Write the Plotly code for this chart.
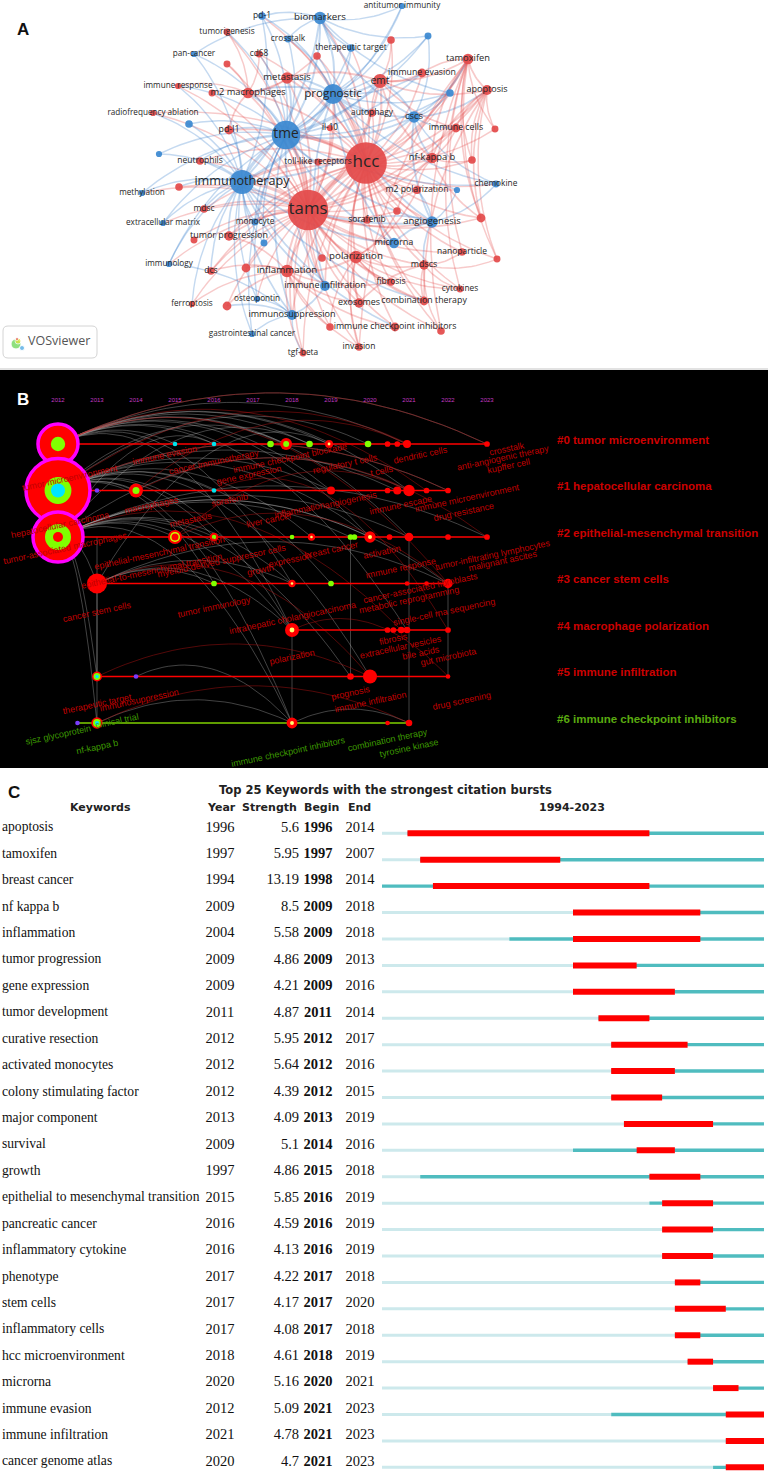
import numpy as np
import plotly.graph_objects as go

W, H = 768, 1478

# ---------------- A: keyword co-occurrence map (VOSviewer layout coords) ----------------
A_NAME = ["pd-1", "biomarkers", "crosstalk", "therapeutic target", "pan-cancer",
          "antitumor immunity", "_b1", "_b2", "cscs", "prognostic", "_b3", "_b4",
          "tme", "immunotherapy", "methylation", "extracellular matrix", "monocyte",
          "_b5", "immunology", "immune infiltration", "osteopontin", "immunosuppression",
          "gastrointestinal cancer", "chemokine", "_b6", "angiogenesis", "microrna",
          "tumorigenesis", "cd68", "_r1", "_r2", "_r3", "metastasis", "emt",
          "immune response", "_r4", "m2 macrophages", "radiofrequency ablation",
          "autophagy", "pd-l1", "il-10", "neutrophils", "toll-like receptors", "hcc",
          "tamoxifen", "immune evasion", "apoptosis", "immune cells", "_r5", "nf-kappa b",
          "_r6", "_r7", "mdsc", "tams", "sorafenib", "tumor progression", "_r8", "dcs",
          "_r9", "inflammation", "_r10", "polarization", "ferroptosis", "_r11", "exosomes",
          "immune checkpoint inhibitors", "_r12", "tgf-beta", "invasion", "fibrosis",
          "m2 polarization", "_r13", "_r14", "nanoparticle", "_r15", "mdscs", "cytokines",
          "combination therapy", "_r16"]
A_X = [262, 320, 288, 351, 194, 402, 428, 450, 414, 333, 189, 159,
       286, 242, 142, 163, 255, 264, 169, 325, 257, 292, 252, 496, 457, 432, 394,
       227, 259, 317, 227, 391, 287, 380, 178, 212, 248, 153, 372, 229, 330, 200, 318, 366,
       468, 422, 487, 456, 495, 432, 472,
       179, 204, 308, 367, 229, 194, 211, 246, 287, 322, 356,
       192, 227, 359, 395, 330, 303, 359, 391,
       417, 397, 481, 462, 497, 424, 460, 424, 441]
A_Y = [16, 18, 39, 48, 54, 6, 36, 93, 117, 94, 124, 154,
       135, 182, 193, 223, 222, 243, 264, 286, 299, 315, 334, 184, 190, 222, 243,
       32, 54, 56, 64, 40, 78, 81, 86, 93, 93, 113, 113, 130, 128, 161, 162, 163,
       59, 73, 90, 128, 129, 158, 160,
       187, 209, 210, 220, 236, 240, 271, 268, 271, 258, 257,
       304, 306, 303, 327, 327, 353, 347, 282,
       190, 211, 218, 252, 259, 265, 289, 301, 331]
A_OCC = [6, 16, 5, 6, 4, 4, 5, 6, 14, 42, 6, 4,
         85, 60, 4, 4, 5, 5, 4, 10, 4, 10, 4, 5, 4, 14, 11,
         5, 5, 6, 5, 6, 14, 20, 4, 5, 12, 4, 6, 8, 4, 6, 5, 180,
         12, 8, 10, 8, 5, 12, 6,
         6, 6, 170, 6, 9, 5, 6, 8, 16, 6, 16,
         4, 8, 9, 8, 6, 5, 6, 6,
         7, 6, 8, 6, 5, 9, 5, 8, 6]
A_CLUSTER = "b" * 27 + "r" * 52

A_LINKS = {
    "hcc": ["tams", "tme", "immunotherapy", "prognostic", "emt", "metastasis", "m2 macrophages",
            "cscs", "nf-kappa b", "tamoxifen", "apoptosis", "immune evasion", "immune cells",
            "autophagy", "toll-like receptors", "il-10", "sorafenib", "m2 polarization",
            "angiogenesis", "microrna", "polarization", "inflammation", "mdscs", "fibrosis",
            "exosomes", "combination therapy", "immune checkpoint inhibitors", "nanoparticle",
            "cytokines", "invasion", "tgf-beta", "immune infiltration", "immunosuppression",
            "pd-l1", "pd-1", "biomarkers", "therapeutic target", "crosstalk", "cd68", "_r1",
            "_r3", "_r5", "_r6", "_r13", "_r14", "_r15", "_r16", "chemokine", "_b6", "_b2",
            "radiofrequency ablation", "neutrophils", "tumor progression", "dcs", "mdsc", "monocyte"],
    "tams": ["tme", "immunotherapy", "prognostic", "m2 macrophages", "metastasis", "emt",
             "inflammation", "polarization", "tumor progression", "mdsc", "monocyte", "dcs",
             "neutrophils", "pd-l1", "cd68", "tumorigenesis", "immune response", "_r2", "_r4",
             "_r7", "_r8", "_r9", "_r10", "_r11", "_r12", "ferroptosis", "exosomes", "tgf-beta",
             "invasion", "immune checkpoint inhibitors", "sorafenib", "angiogenesis", "microrna",
             "nf-kappa b", "tamoxifen", "apoptosis", "immune cells", "cytokines", "mdscs",
             "fibrosis", "combination therapy", "toll-like receptors", "il-10", "autophagy",
             "osteopontin", "immunosuppression", "immune infiltration", "extracellular matrix",
             "immunology", "methylation", "radiofrequency ablation", "m2 polarization", "_r13",
             "nanoparticle", "_r14", "_r16"],
    "tme": ["immunotherapy", "prognostic", "biomarkers", "pd-1", "crosstalk", "therapeutic target",
            "pan-cancer", "cscs", "_b3", "_b4", "methylation", "monocyte", "_b5",
            "immune infiltration", "immunosuppression", "angiogenesis", "microrna", "chemokine",
            "_b1", "_b2", "antitumor immunity", "extracellular matrix", "immunology", "osteopontin",
            "gastrointestinal cancer", "metastasis", "pd-l1", "m2 macrophages", "immune evasion",
            "cd68", "tumorigenesis", "emt", "immune response", "neutrophils", "toll-like receptors"],
    "immunotherapy": ["prognostic", "biomarkers", "pd-1", "pan-cancer", "_b3", "_b4", "methylation",
                      "extracellular matrix", "immunology", "monocyte", "_b5", "immune infiltration",
                      "osteopontin", "immunosuppression", "gastrointestinal cancer", "cscs",
                      "angiogenesis", "microrna", "pd-l1", "mdsc", "neutrophils", "dcs",
                      "immune checkpoint inhibitors", "combination therapy", "_r7",
                      "radiofrequency ablation", "immune response", "tumor progression", "ferroptosis"],
    "prognostic": ["biomarkers", "crosstalk", "therapeutic target", "pd-1", "cscs", "_b1", "_b2",
                   "antitumor immunity", "emt", "metastasis", "immune evasion", "chemokine", "_b6",
                   "angiogenesis", "microrna", "immune infiltration", "m2 macrophages", "_r1", "_r3",
                   "autophagy"],
    "biomarkers": ["pd-1", "crosstalk", "therapeutic target", "antitumor immunity", "_b1",
                   "pan-cancer", "cscs", "_b2"],
    "cscs": ["_b2", "_b1", "angiogenesis", "chemokine", "emt", "tamoxifen", "apoptosis",
             "immune cells", "nf-kappa b"],
    "angiogenesis": ["microrna", "_b6", "chemokine", "sorafenib", "m2 polarization", "mdscs"],
    "immunosuppression": ["gastrointestinal cancer", "osteopontin", "immune infiltration",
                          "immunology", "tgf-beta", "_r11"],
    "emt": ["metastasis", "tamoxifen", "immune evasion", "apoptosis", "nf-kappa b", "autophagy",
            "_r3", "immune cells"],
    "tamoxifen": ["apoptosis", "immune evasion", "_r5", "nf-kappa b", "_r6", "_r14", "_r15",
                  "nanoparticle", "cytokines", "_r16", "invasion"],
    "apoptosis": ["_r5", "immune cells", "nf-kappa b", "_r6", "_r14", "_r15", "combination therapy"],
    "inflammation": ["polarization", "tumor progression", "_r9", "dcs", "ferroptosis", "_r11",
                     "tgf-beta", "invasion", "exosomes", "immune checkpoint inhibitors", "_r12",
                     "fibrosis"],
    "polarization": ["m2 polarization", "exosomes", "mdscs", "fibrosis", "combination therapy",
                     "cytokines", "invasion", "_r12", "_r13"],
    "nf-kappa b": ["m2 polarization", "_r6", "_r13", "_r14", "immune cells"],
    "m2 macrophages": ["metastasis", "pd-l1", "cd68", "tumorigenesis", "_r2", "_r4",
                       "immune response", "_r1"],
    "mdscs": ["combination therapy", "nanoparticle", "cytokines", "_r15", "_r16", "exosomes"],
}

# ---------------- B: CiteSpace timeline view ----------------
B_YEARS = list(range(2012, 2024))
B_CLUSTERS = ["#0 tumor microenvironment", "#1 hepatocellular carcinoma",
              "#2 epithelial-mesenchymal transition", "#3 cancer stem cells",
              "#4 macrophage polarization", "#5 immune infiltration",
              "#6 immune checkpoint inhibitors"]
B_SPAN_START = [2012, 2012, 2011.5, 2013, 2018, 2013, 2012.5]
B_SPAN_END = [2023, 2022, 2023, 2022, 2022, 2022, 2021]

B_NODE_YEAR = [2012, 2015, 2016, 2017.45, 2017.85, 2018.45, 2018.95, 2019.95, 2020.45, 2020.7, 2020.95, 2023,
               2012, 2013, 2014, 2016, 2019, 2020.45, 2020.7, 2021, 2021.45, 2022,
               2011.5, 2012, 2015, 2016, 2018, 2018.5, 2019.5, 2019.6, 2020, 2020.5, 2021, 2022, 2023,
               2013, 2016, 2018, 2019, 2020.95, 2021.45, 2022,
               2018, 2020.45, 2020.6, 2020.8, 2020.95, 2022,
               2013, 2014, 2019.5, 2020, 2022,
               2012.5, 2013, 2018, 2020.45, 2021]
B_NODE_ROW = [0, 0, 0, 0, 0, 0, 0, 0, 0, 0, 0, 0,
              1, 1, 1, 1, 1, 1, 1, 1, 1, 1,
              2, 2, 2, 2, 2, 2, 2, 2, 2, 2, 2, 2, 2,
              3, 3, 3, 3, 3, 3, 3,
              4, 4, 4, 4, 4, 4,
              5, 5, 5, 5, 5,
              6, 6, 6, 6, 6]
B_NODE_CIT = [147, 2, 2, 4, 13, 4, 6, 4, 3, 3, 6, 3,
              376, 2, 18, 2, 6, 3, 6, 12, 3, 3,
              2, 230, 18, 7, 2, 5, 3, 3, 12, 3, 7, 3, 3,
              37, 3, 5, 3, 2, 2, 8,
              18, 3, 3, 4, 4, 3,
              9, 2, 4, 18, 2,
              2, 12, 11, 2, 4]
B_NODE_KIND = ["hub0", "cyan", "cyan", "green", "ring_g", "green", "ring_y", "green", "red", "red", "red", "red",
               "hub1", "purple", "ring_g", "cyan", "red", "red", "red", "red", "red", "red",
               "purple", "hub2", "ring_gr", "ring_g", "green", "ring_y", "green", "green", "ring_y", "red", "red", "red", "red",
               "red", "green", "ring_y", "green", "red", "red", "red",
               "ring_y", "red", "red", "red", "red", "red",
               "rgc", "purple", "red", "red", "red",
               "purple", "rgc", "ring_y", "red", "red"]

# co-citation links (year, row) -> (year, row), g = grey, r = dark red
B_LINKS = [
    (2012, 0, 2015, 0, "g"), (2012, 0, 2016, 0, "g"), (2012, 0, 2017.85, 0, "g"), (2012, 0, 2018.45, 0, "g"),
    (2012, 0, 2018.95, 0, "g"), (2012, 0, 2020.95, 0, "g"), (2012, 0, 2023, 0, "g"), (2012, 0, 2019, 1, "g"),
    (2012, 0, 2021, 1, "g"), (2012, 0, 2020, 2, "g"), (2012, 0, 2021, 2, "g"), (2012, 0, 2018, 3, "g"),
    (2012, 0, 2018, 4, "g"), (2012, 0, 2020.95, 4, "g"),
    (2012, 1, 2014, 1, "g"), (2012, 1, 2016, 1, "g"), (2012, 1, 2019, 1, "g"), (2012, 1, 2020.7, 1, "g"),
    (2012, 1, 2022, 1, "g"), (2012, 1, 2017.85, 0, "g"), (2012, 1, 2019.95, 0, "g"), (2012, 1, 2016, 2, "g"),
    (2012, 1, 2018.5, 2, "g"), (2012, 1, 2020, 2, "g"), (2012, 1, 2016, 3, "g"), (2012, 1, 2019, 3, "g"),
    (2012, 1, 2018, 4, "g"), (2012, 1, 2020, 5, "g"), (2012, 1, 2018, 6, "g"),
    (2012, 2, 2015, 2, "g"), (2012, 2, 2016, 2, "g"), (2012, 2, 2019.5, 2, "g"), (2012, 2, 2020, 2, "g"),
    (2012, 2, 2021, 2, "g"), (2012, 2, 2023, 2, "g"), (2012, 2, 2016, 0, "g"), (2012, 2, 2018.45, 0, "g"),
    (2012, 2, 2021, 1, "g"), (2012, 2, 2013, 3, "g"), (2012, 2, 2018, 3, "g"), (2012, 2, 2022, 3, "g"),
    (2012, 2, 2018, 4, "g"), (2012, 2, 2019.5, 5, "g"), (2012, 2, 2013, 5, "g"), (2012, 2, 2013, 6, "g"),
    (2012, 2, 2018, 6, "g"),
    (2013, 3, 2016, 3, "g"), (2013, 3, 2018, 3, "g"), (2013, 3, 2022, 3, "g"), (2013, 3, 2018.95, 0, "g"),
    (2013, 3, 2018, 4, "g"), (2013, 5, 2013, 2, "g"), (2013, 6, 2013, 3, "g"), (2019.5, 5, 2019.5, 2, "g"),
    (2021, 6, 2021, 2, "g"), (2022, 5, 2022, 3, "g"), (2018, 6, 2018, 4, "g"), (2013, 6, 2018, 6, "g"),
    (2018, 6, 2021, 6, "g"), (2014, 5, 2018, 6, "g"),
    (2012, 0, 2022, 3, "r"), (2012, 1, 2021, 0, "r"), (2013, 3, 2020, 5, "r"), (2012, 2, 2020.8, 4, "r"),
    (2014, 1, 2023, 2, "r"), (2015, 2, 2021, 1, "r"), (2012, 0, 2023, 0, "r"), (2016, 1, 2022, 4, "r"),
    (2013, 5, 2020, 5, "r"), (2013, 6, 2021, 6, "r"), (2018, 4, 2022, 5, "r"), (2012, 1, 2022, 1, "r"),
    (2012, 0, 2021.45, 1, "r"), (2014, 1, 2020.95, 0, "r"), (2015, 2, 2022, 3, "r"),
]

# node labels of the timeline: text, year, row position, cluster
B_LABELS = [
    ("crosstalk", 2023.5, 0.11, 0), ("anti-angiogenic therapy", 2023.4, 0.30, 0),
    ("kupffer cell", 2023.55, 0.47, 0), ("tumor microenvironment", 2012.3, 0.73, 0),
    ("immune evasion", 2014.75, 0.24, 0), ("cancer immunotherapy", 2016.0, 0.39, 0),
    ("immune checkpoint blockade", 2017.95, 0.30, 0), ("regulatory t cells", 2019.35, 0.42, 0),
    ("dendritic cells", 2021.3, 0.24, 0), ("gene expression", 2016.9, 0.67, 0),
    ("t cells", 2020.3, 0.58, 0),
    ("hepatocellular carcinoma", 2012.05, 1.74, 1), ("immune microenvironment", 2022.5, 1.16, 1),
    ("drug resistance", 2022.4, 1.46, 1), ("macrophages", 2014.4, 1.31, 1),
    ("sorafenib", 2016.4, 1.20, 1), ("inflammation", 2018.2, 1.42, 1),
    ("angiogenesis", 2019.5, 1.20, 1), ("immune escape", 2020.8, 1.31, 1),
    ("metastasis", 2015.4, 1.63, 1), ("liver cancer", 2017.4, 1.63, 1),
    ("tumor-associated macrophages", 2012.2, 2.24, 2), ("epithelial-mesenchymal transition", 2014.6, 2.34, 2),
    ("myeloid-derived suppressor cells", 2016.2, 2.52, 2), ("tumor-infiltrating lymphocytes", 2023.15, 2.39, 2),
    ("malignant ascites", 2023.4, 2.52, 2), ("breast cancer", 2019.0, 2.28, 2),
    ("expression", 2017.95, 2.49, 2), ("activation", 2020.3, 2.32, 2),
    ("immune response", 2020.8, 2.67, 2), ("growth", 2017.2, 2.72, 2),
    ("epithelial-to-mesenchymal transition", 2014.4, 2.74, 3), ("cancer stem cells", 2013.0, 3.61, 3),
    ("tumor immunology", 2016.0, 3.51, 3), ("intrahepatic cholangiocarcinoma", 2018.0, 3.74, 3),
    ("single-cell rna sequencing", 2021.9, 3.61, 3), ("metabolic reprogramming", 2021.0, 3.35, 3),
    ("cancer-associated fibroblasts", 2021.3, 3.10, 3),
    ("polarization", 2018.0, 4.58, 4), ("extracellular vesicles", 2020.8, 4.37, 4),
    ("gut microbiota", 2022.0, 4.58, 4), ("fibrosis", 2020.6, 4.20, 4),
    ("bile acids", 2021.3, 4.50, 4),
    ("prognosis", 2019.5, 5.35, 5), ("immune infiltration", 2020.0, 5.55, 5),
    ("drug screening", 2022.35, 5.53, 5), ("therapeutic target", 2013.0, 5.59, 5),
    ("immunosuppression", 2014.1, 5.51, 5),
    ("sjsz glycoprotein", 2012.0, 6.26, 6), ("clinical trial", 2013.5, 5.96, 6),
    ("nf-kappa b", 2013.0, 6.52, 6), ("immune checkpoint inhibitors", 2017.9, 6.62, 6),
    ("combination therapy", 2020.45, 6.37, 6), ("tyrosine kinase", 2021.0, 6.54, 6),
]

# ---------------- C: citation bursts ----------------
C_KEYWORD = ["apoptosis", "tamoxifen", "breast cancer", "nf kappa b", "inflammation",
             "tumor progression", "gene expression", "tumor development", "curative resection",
             "activated monocytes", "colony stimulating factor", "major component", "survival",
             "growth", "epithelial to mesenchymal transition", "pancreatic cancer",
             "inflammatory cytokine", "phenotype", "stem cells", "inflammatory cells",
             "hcc microenvironment", "microrna", "immune evasion", "immune infiltration",
             "cancer genome atlas"]
C_YEAR = [1996, 1997, 1994, 2009, 2004, 2009, 2009, 2011, 2012, 2012, 2012, 2013, 2009,
          1997, 2015, 2016, 2016, 2017, 2017, 2017, 2018, 2020, 2012, 2021, 2020]
C_STRENGTH = [5.6, 5.95, 13.19, 8.5, 5.58, 4.86, 4.21, 4.87, 5.95, 5.64, 4.39, 4.09, 5.1,
              4.86, 5.85, 4.59, 4.13, 4.22, 4.17, 4.08, 4.61, 5.16, 5.09, 4.78, 4.7]
C_BEGIN = [1996, 1997, 1998, 2009, 2009, 2009, 2009, 2011, 2012, 2012, 2012, 2013, 2014,
           2015, 2016, 2016, 2016, 2017, 2017, 2017, 2018, 2020, 2021, 2021, 2021]
C_END = [2014, 2007, 2014, 2018, 2018, 2013, 2016, 2014, 2017, 2016, 2015, 2019, 2016,
         2018, 2019, 2019, 2019, 2018, 2020, 2018, 2019, 2021, 2023, 2023, 2023]
C_FIRST, C_LAST = 1994, 2023


def bez(x0, y0, x1, y1, cx, cy, n=18):
    t = np.linspace(0, 1, n)
    return ((1 - t) ** 2 * x0 + 2 * (1 - t) * t * cx + t ** 2 * x1,
            (1 - t) ** 2 * y0 + 2 * (1 - t) * t * cy + t ** 2 * y1)


fig = go.Figure()

# ===== A =====
idx = {n: i for i, n in enumerate(A_NAME)}
RED, BLUE = "#e34a4a", "#3b89d1"
seen = set()
for src, targets in A_LINKS.items():
    for tgt in targets:
        key = frozenset((src, tgt))
        if key in seen or src == tgt:
            continue
        seen.add(key)
        i, j = idx[src], idx[tgt]
        x0, y0, x1, y1 = A_X[i], A_Y[i], A_X[j], A_Y[j]
        dx, dy = x1 - x0, y1 - y0
        cx, cy = (x0 + x1) / 2 - dy * 0.16, (y0 + y1) / 2 + dx * 0.16
        bx, by = bez(x0, y0, x1, y1, cx, cy)
        m = min(A_OCC[i], A_OCC[j])
        col = "rgba(228,78,78,0.3)" if A_CLUSTER[i] == "r" else "rgba(60,130,205,0.3)"
        fig.add_trace(go.Scatter(x=bx, y=by, mode="lines", xaxis="x", yaxis="y",
                                 line=dict(color=col, width=0.8 + 0.3 * np.sqrt(m)),
                                 hoverinfo="skip"))

fig.add_trace(go.Scatter(
    x=A_X, y=A_Y, mode="markers", xaxis="x", yaxis="y",
    marker=dict(size=[3.1 * np.sqrt(o) for o in A_OCC],
                color=[RED if c == "r" else BLUE for c in A_CLUSTER],
                opacity=0.93, line=dict(width=0)),
    hoverinfo="skip"))
lab = [i for i, n in enumerate(A_NAME) if not n.startswith("_")]
fig.add_trace(go.Scatter(
    x=[A_X[i] for i in lab], y=[A_Y[i] for i in lab], mode="text", xaxis="x", yaxis="y",
    text=[A_NAME[i] for i in lab], textposition="middle center",
    textfont=dict(family="Open Sans", color="#262626",
                  size=[6.6 + 0.78 * np.sqrt(A_OCC[i]) for i in lab]),
    hoverinfo="skip"))

# VOSviewer badge
fig.add_trace(go.Scatter(x=[16, 18, 22, 17], y=[344, 341, 348, 339], mode="markers",
                         xaxis="x", yaxis="y",
                         marker=dict(size=[10, 6, 5, 3], color=["#5fd34a", "#e6e23a", "#3aa0e0", "#e03030"]),
                         hoverinfo="skip"))
fig.add_trace(go.Scatter(x=[28], y=[342], mode="text", text=["VOSviewer"], xaxis="x", yaxis="y",
                         textposition="middle right",
                         textfont=dict(family="Open Sans", size=12.5, color="#555555"),
                         hoverinfo="skip"))

# ===== B =====
for x0, r0, x1, r1, c in B_LINKS:
    cy = min(r0, r1) - 0.2 * abs(x1 - x0)
    bx, by = bez(x0, r0, x1, r1, (x0 + x1) / 2, cy, 30)
    col = "rgba(185,185,185,0.45)" if c == "g" else "rgba(175,20,20,0.6)"
    fig.add_trace(go.Scatter(x=bx, y=by, mode="lines", xaxis="x2", yaxis="y2",
                             line=dict(color=col, width=0.8), hoverinfo="skip"))

for r, (s, e) in enumerate(zip(B_SPAN_START, B_SPAN_END)):
    fig.add_trace(go.Scatter(x=[s, e], y=[r, r], mode="lines", xaxis="x2", yaxis="y2",
                             line=dict(color="#7fd000" if r == 6 else "#ff0000", width=1.3),
                             hoverinfo="skip"))

KIND = {
    "hub0": [(1.0, "#ff0000"), (0.36, "#80ff00")],
    "hub1": [(1.0, "#ff0000"), (0.42, "#80ff00"), (0.22, "#00e5ff")],
    "hub2": [(1.0, "#ff0000"), (0.52, "#80ff00"), (0.2, "#ff0000")],
    "ring_g": [(1.0, "#ff0000"), (0.5, "#80ff00")],
    "ring_gr": [(1.0, "#ff0000"), (0.72, "#c8ff00"), (0.5, "#ff0000")],
    "ring_y": [(1.0, "#ff0000"), (0.35, "#ffff70")],
    "rgc": [(1.0, "#ff0000"), (0.7, "#80ff00"), (0.35, "#00e5ff")],
    "red": [(1.0, "#ff0000")],
    "green": [(1.0, "#80ff00")],
    "cyan": [(1.0, "#00e5ee")],
    "purple": [(1.0, "#7a3cff")],
}
px_, py_, ps, pc, plc, plw = [], [], [], [], [], []
for yr, row, cit, kind in zip(B_NODE_YEAR, B_NODE_ROW, B_NODE_CIT, B_NODE_KIND):
    d = 3.3 * np.sqrt(cit)
    for k, (f, col) in enumerate(KIND[kind]):
        px_.append(yr); py_.append(row); ps.append(d * f); pc.append(col)
        hub = kind.startswith("hub") and k == 0
        plc.append("#ff00ff" if hub else col)
        plw.append(3.5 if hub else 0)
fig.add_trace(go.Scatter(x=px_, y=py_, mode="markers", xaxis="x2", yaxis="y2",
                         marker=dict(size=ps, color=pc, opacity=1, line=dict(color=plc, width=plw)),
                         hoverinfo="skip"))

fig.add_trace(go.Scatter(x=B_YEARS, y=[-0.93] * len(B_YEARS), mode="text", xaxis="x2", yaxis="y2",
                         text=[str(y) for y in B_YEARS],
                         textfont=dict(family="Liberation Sans", size=6, color="#c23ac2"),
                         hoverinfo="skip"))

ann = []
for txt, yr, rp, cl in B_LABELS:
    ann.append(dict(x=yr, y=rp, xref="x2", yref="y2", text=txt, showarrow=False,
                    textangle=-12,
                    font=dict(family="Liberation Sans", size=9,
                              color="#3d9a00" if cl == 6 else "#c00000")))
for r, name in enumerate(B_CLUSTERS):
    ann.append(dict(x=2024.74, y=r - 0.09, xref="x2", yref="y2", text="<b>%s</b>" % name,
                    showarrow=False, xanchor="left",
                    font=dict(family="Liberation Sans", size=11.5,
                              color="#5aaa10" if r == 6 else "#cc0000")))

# ===== C =====
lx, ly, tx, ty, rx, ry = [], [], [], [], [], []
for i, (y0, b, e) in enumerate(zip(C_YEAR, C_BEGIN, C_END)):
    yy = i + 0.2
    lx += [C_FIRST, y0, None]; ly += [yy, yy, None]
    tx += [y0, C_LAST + 1, None]; ty += [yy, yy, None]
    rx += [b, e + 1, None]; ry += [yy, yy, None]
fig.add_trace(go.Scatter(x=lx, y=ly, mode="lines", xaxis="x4", yaxis="y3",
                         line=dict(color="#cde9ec", width=3), hoverinfo="skip"))
fig.add_trace(go.Scatter(x=tx, y=ty, mode="lines", xaxis="x4", yaxis="y3",
                         line=dict(color="#4fbcbf", width=3.4), hoverinfo="skip"))
fig.add_trace(go.Scatter(x=rx, y=ry, mode="lines", xaxis="x4", yaxis="y3",
                         line=dict(color="#ff0000", width=6), hoverinfo="skip"))

rows = list(range(len(C_KEYWORD)))
serif = dict(family="Liberation Serif", size=14.5, color="#111111")
fig.add_trace(go.Scatter(x=[2] * len(rows), y=rows, mode="text", xaxis="x3", yaxis="y3",
                         text=C_KEYWORD, textposition="middle right",
                         textfont=dict(family="Liberation Serif", size=13.6, color="#111111"),
                         hoverinfo="skip"))
fig.add_trace(go.Scatter(x=[220] * len(rows), y=rows, mode="text", xaxis="x3", yaxis="y3",
                         text=[str(v) for v in C_YEAR], textposition="middle center",
                         textfont=serif, hoverinfo="skip"))
fig.add_trace(go.Scatter(x=[299] * len(rows), y=rows, mode="text", xaxis="x3", yaxis="y3",
                         text=[str(v) for v in C_STRENGTH], textposition="middle left",
                         textfont=serif, hoverinfo="skip"))
fig.add_trace(go.Scatter(x=[318] * len(rows), y=rows, mode="text", xaxis="x3", yaxis="y3",
                         text=["<b>%d</b>" % v for v in C_BEGIN], textposition="middle center",
                         textfont=serif, hoverinfo="skip"))
fig.add_trace(go.Scatter(x=[360] * len(rows), y=rows, mode="text", xaxis="x3", yaxis="y3",
                         text=[str(v) for v in C_END], textposition="middle center",
                         textfont=serif, hoverinfo="skip"))

hdr = dict(family="DejaVu Sans", size=11, color="#222222")
ann.append(dict(x=385, y=-1.44, xref="x3", yref="y3", showarrow=False,
                text="<b>Top 25 Keywords with the strongest citation bursts</b>",
                font=dict(family="DejaVu Sans", size=11.5, color="#222222")))
for txt, xx in [("Keywords", 100), ("Year", 221), ("Strength", 269), ("Begin", 321),
                ("End", 359), ("%d-%d" % (C_FIRST, C_LAST), 572)]:
    ann.append(dict(x=xx, y=-0.76, xref="x3", yref="y3", showarrow=False,
                    text="<b>%s</b>" % txt, font=hdr))

# panel letters
for letter, px, py, col in [("A", 15, 18, "#111111"), ("B", 15, 388, "#ffffff"), ("C", 6, 792, "#111111")]:
    ann.append(dict(x=px / W, y=1 - py / H, xref="paper", yref="paper", showarrow=False,
                    text="<b>%s</b>" % letter,
                    font=dict(family="Liberation Sans", size=17, color=col)))

shapes = [
    dict(type="rect", xref="paper", yref="paper", x0=0, x1=1, y0=1 - 768 / H, y1=1 - 370 / H,
         fillcolor="#000000", line=dict(width=0), layer="below"),
    dict(type="line", xref="paper", yref="paper", x0=0, x1=1, y0=1 - 369 / H, y1=1 - 369 / H,
         line=dict(color="#d8d8d8", width=1.5)),
    dict(type="path", xref="x", yref="y",
         path="M 8 326 L 92 326 Q 97 326 97 331 L 97 353 Q 97 358 92 358 L 8 358 "
              "Q 3 358 3 353 L 3 331 Q 3 326 8 326 Z",
         line=dict(color="#d4d4d4", width=1), fillcolor="rgba(255,255,255,0)"),
]

hidden = dict(visible=False, fixedrange=True)
fig.update_layout(
    width=W, height=H, margin=dict(l=0, r=0, t=0, b=0),
    paper_bgcolor="white", plot_bgcolor="rgba(0,0,0,0)", showlegend=False,
    xaxis=dict(domain=[0, 1], range=[0, W], **hidden),
    yaxis=dict(domain=[1 - 369 / H, 1], range=[369, 0], **hidden),
    xaxis2=dict(domain=[0, 1], range=[2012 - 58 / 39, 2012 + 710 / 39], anchor="y2", **hidden),
    yaxis2=dict(domain=[1 - 768 / H, 1 - 370 / H], range=[(768 - 444) / 46.5, (370 - 444) / 46.5],
                anchor="x2", **hidden),
    xaxis3=dict(domain=[0, 1], range=[0, W], anchor="y3", **hidden),
    xaxis4=dict(domain=[0, 1], range=[1994 - 382 / 12.733, 1994 + 386 / 12.733], anchor="y3",
                overlaying="x3", **hidden),
    yaxis3=dict(domain=[0, 1 - 770 / H], range=[(1478 - 828) / 26.42, (770 - 828) / 26.42],
                anchor="x3", **hidden),
    annotations=ann, shapes=shapes,
)

# the page body has a default 8px margin; drop it so the figure sits at the window origin
fig.write_html("out.html", config={"displayModeBar": False},
               post_script="document.body.style.margin='0px';")
